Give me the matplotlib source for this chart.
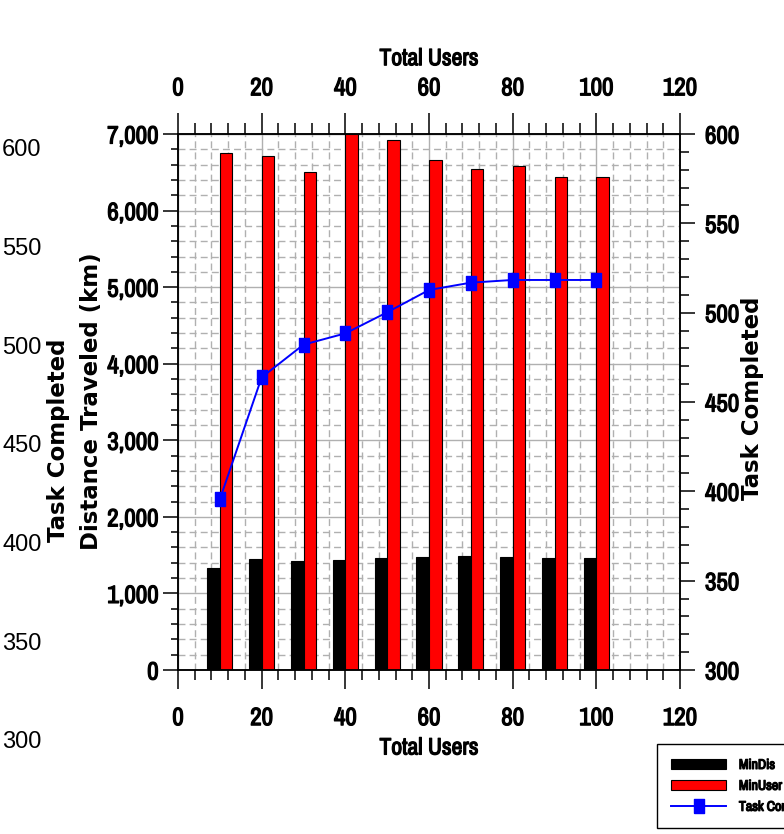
import numpy as np
import matplotlib
matplotlib.use('Agg')
import matplotlib.pyplot as plt
import matplotlib.patheffects as pe
from matplotlib import font_manager
from matplotlib.ticker import MultipleLocator, StrMethodFormatter

# narrow bold font if one exists, otherwise Liberation Sans a bit smaller
names = sorted({f.name for f in font_manager.fontManager.ttflist})
narrow = [n for n in names if 'Narrow' in n or 'Condensed' in n]
if 'Liberation Sans Narrow' in names:
    narrow = ['Liberation Sans Narrow']
if narrow:
    tick_family, tick_size, leg_size = narrow[0], 18, 10
else:
    tick_family, tick_size, leg_size = 'Liberation Sans', 15.5, 9
plt.rcParams['font.family'] = [tick_family, 'DejaVu Sans']
plt.rcParams['font.weight'] = 'bold'
plt.rcParams['axes.labelweight'] = 'bold'

# the narrow face has no bold cut, thicken it with a thin outline
heavy = [pe.withStroke(linewidth=0.9, foreground='black')]

# data
users = [10, 20, 30, 40, 50, 60, 70, 80, 90, 100]
min_dis = [1336, 1450, 1428, 1432, 1458, 1476, 1489, 1476, 1458, 1458]
min_user = [6756, 6713, 6504, 6996, 6922, 6660, 6547, 6578, 6443, 6443]
task_completed = [395.5, 463.8, 482.1, 488.4, 500.2, 512.7, 516.8, 518.3, 518.3, 518.3]

W, H = 784, 834
fig = plt.figure(figsize=(W / 100, H / 100), dpi=100)

def px_box(x0, y0, x1, y1):
    return [x0 / W, 1 - y1 / H, (x1 - x0) / W, (y1 - y0) / H]

ax = fig.add_axes(px_box(178, 134, 680, 670))
x = np.array(users)
ax.bar(x - 3, min_dis, width=3, align='edge', color='black', edgecolor='black',
       linewidth=0.8, label='MinDis', zorder=2)
ax.bar(x, min_user, width=3, align='edge', color='#ff0000', edgecolor='black',
       linewidth=0.8, label='MinUser', zorder=2)

ax.set_xlim(0, 120)
ax.set_ylim(0, 7000)
ax.xaxis.set_major_locator(MultipleLocator(20))
ax.xaxis.set_minor_locator(MultipleLocator(4))
ax.yaxis.set_major_locator(MultipleLocator(1000))
ax.yaxis.set_minor_locator(MultipleLocator(200))
ax.yaxis.set_major_formatter(StrMethodFormatter('{x:,.0f}'))
ax.set_axisbelow(True)
ax.grid(which='major', color='#b0b0b0', linestyle='-', linewidth=1.0)
ax.grid(which='minor', color='#b0b0b0', linestyle=(0, (5, 3)), linewidth=1.0)
for s in ax.spines.values():
    s.set_linewidth(1.1)
ax.tick_params(axis='x', which='major', direction='out', length=14, width=1.1,
               pad=12, labelsize=tick_size)
ax.tick_params(axis='x', which='minor', direction='out', length=7, width=1.1)
ax.tick_params(axis='y', which='major', direction='out', length=11, width=1.1,
               pad=3, labelsize=tick_size)
ax.tick_params(axis='y', which='minor', direction='out', length=5, width=1.1)
ax.set_xlabel('Total Users', fontsize=tick_size - 1, labelpad=6)

# top axis
ax_t = ax.secondary_xaxis('top')
ax_t.set_xticks([0, 20, 40, 60, 80, 100, 120])
ax_t.xaxis.set_minor_locator(MultipleLocator(4))
ax_t.tick_params(which='major', direction='out', length=15, width=1.1, pad=10,
                 labelsize=tick_size)
ax_t.tick_params(which='minor', direction='out', length=8, width=1.1)
ax_t.set_xlabel('Total Users', fontsize=tick_size - 1, labelpad=8)

# right axis with task completed
ax_r = ax.twinx()
marker_rect = [(-0.37, -0.5), (0.37, -0.5), (0.37, 0.5), (-0.37, 0.5), (-0.37, -0.5)]
ax_r.plot(users, task_completed, color='#0000ff', linewidth=1.4, marker=marker_rect,
          markersize=9.5, markerfacecolor='#0000ff', markeredgecolor='#0000ff',
          label='Task Completed', zorder=3)
ax_r.set_ylim(300, 600)
ax_r.yaxis.set_major_locator(MultipleLocator(50))
ax_r.yaxis.set_minor_locator(MultipleLocator(10))
ax_r.tick_params(which='major', direction='out', length=11, width=1.1, pad=7,
                 labelsize=tick_size)
ax_r.tick_params(which='minor', direction='out', length=6.5, width=1.1)
for s in ax_r.spines.values():
    s.set_linewidth(1.1)

# extra left scale (labels only)
ax_l = fig.add_axes(px_box(45, 148, 55, 740))
ax_l.set_ylim(300, 600)
ax_l.yaxis.set_major_locator(MultipleLocator(50))
ax_l.set_xticks([])
ax_l.patch.set_visible(False)
for s in ax_l.spines.values():
    s.set_visible(False)
ax_l.tick_params(axis='y', length=0, pad=2.5, labelsize=17)
for lab in ax_l.get_yticklabels():
    lab.set_fontfamily(['Liberation Sans', 'DejaVu Sans'])
    lab.set_fontweight('normal')

label_font = dict(family='DejaVu Sans', weight='bold', size=16.5,
                  rotation=90, ha='center', va='center')
fig.text(58 / W, 1 - 440 / H, 'Task Completed', **label_font)
fig.text(92 / W, 1 - 401 / H, 'Distance Traveled (km)', **label_font)
fig.text(753 / W, 1 - 398 / H, 'Task Completed', **label_font)

# legend, partly cut off by the right edge like the reference
h1, l1 = ax.get_legend_handles_labels()
h2, l2 = ax_r.get_legend_handles_labels()
leg = fig.legend(h1 + h2, l1 + l2, loc='upper left',
                 bbox_to_anchor=(657 / W, 1 - 744 / H), borderaxespad=0,
                 fontsize=leg_size, handlelength=4.0, handleheight=0.8,
                 handletextpad=0.9, labelspacing=0.5, borderpad=1.0,
                 fancybox=False, framealpha=1, edgecolor='black')
leg.get_frame().set_linewidth(1.0)

if narrow:
    texts = (ax.get_xticklabels() + ax.get_yticklabels() + ax_r.get_yticklabels()
             + ax_t.get_xticklabels() + [ax.xaxis.label, ax_t.xaxis.label]
             + leg.get_texts())
    for t in texts:
        t.set_path_effects(heavy)

fig.savefig('out.png', dpi=100)
